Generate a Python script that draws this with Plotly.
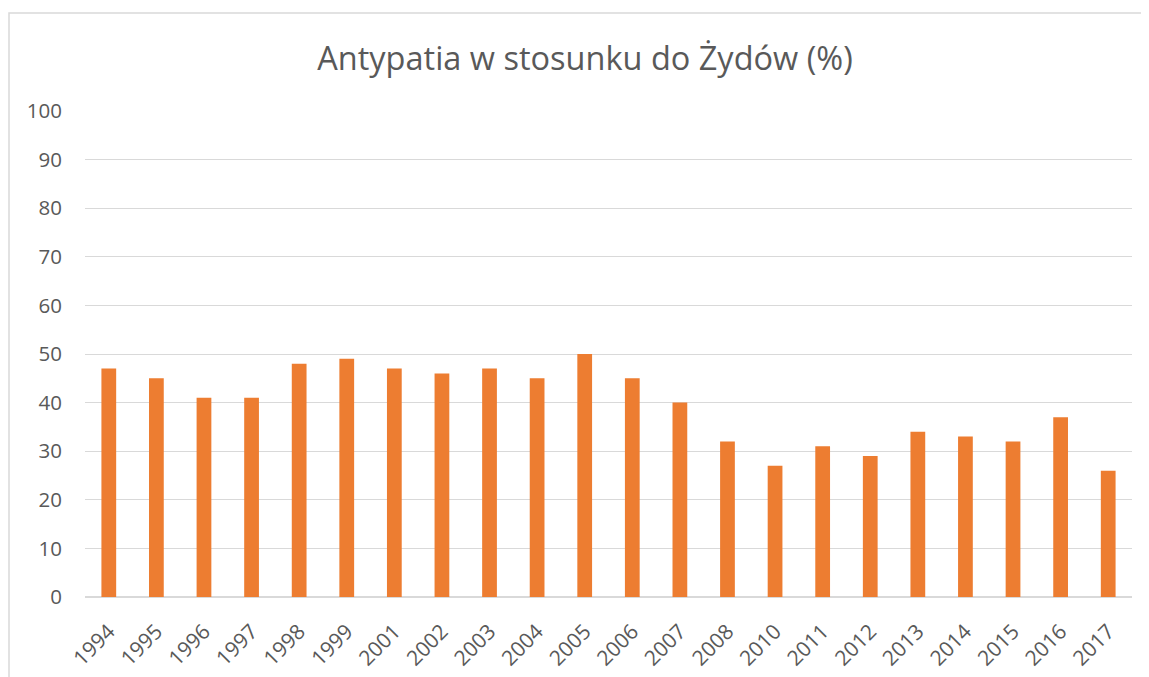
import plotly.graph_objects as go

years = ["1994", "1995", "1996", "1997", "1998", "1999", "2001", "2002", "2003", "2004", "2005",
         "2006", "2007", "2008", "2010", "2011", "2012", "2013", "2014", "2015", "2016", "2017"]
values = [47, 45, 41, 41, 48, 49, 47, 46, 47, 45, 50, 45, 40, 32, 27, 31, 29, 34, 33, 32, 37, 26]

# page body has an 8px margin; figure coordinates = window coordinates - 8
OFF = 8
W, H = 1149 - OFF, 677 - OFF
L, T = 85 - OFF, 111 - OFF
R = W - (1132 - OFF)
B = H - (597 - OFF)
pw, ph = W - L - R, H - T - B

fig = go.Figure(go.Bar(x=years, y=values, marker=dict(color="#ED7D31", line=dict(width=0))))

fig.update_layout(
    width=W, height=H,
    margin=dict(l=L, r=R, t=T, b=B, autoexpand=False),
    paper_bgcolor="white", plot_bgcolor="white",
    bargap=0.69,
    showlegend=False,
    title=dict(text="Antypatia w stosunku do Żydów (%)", x=(585 - OFF) / W, xanchor="center",
               y=1 - (59 - OFF) / H, yanchor="middle", yref="container",
               font=dict(family="Open Sans", size=32.5, color="#595959")),
    font=dict(family="Open Sans", color="#595959"),
    xaxis=dict(type="category", tickangle=-45, tickfont=dict(size=21, color="#595959"),
               showgrid=False, showline=False, ticks="", ticklabelstandoff=17),
    yaxis=dict(range=[0, 100], dtick=10, tickfont=dict(size=20.5, color="#595959"),
               gridcolor="#d9d9d9", gridwidth=1, zeroline=True, zerolinecolor="#d9d9d9",
               zerolinewidth=2, showline=False, ticks="", ticklabelstandoff=22),
    shapes=[dict(type="rect", xref="paper", yref="paper",
                 x0=(9 - 85) / pw, x1=1.2, y0=-0.5, y1=(597 - 13) / ph,
                 line=dict(color="#d9d9d9", width=1.5), fillcolor="rgba(0,0,0,0)", layer="below")],
)

fig.write_html("out.html")
